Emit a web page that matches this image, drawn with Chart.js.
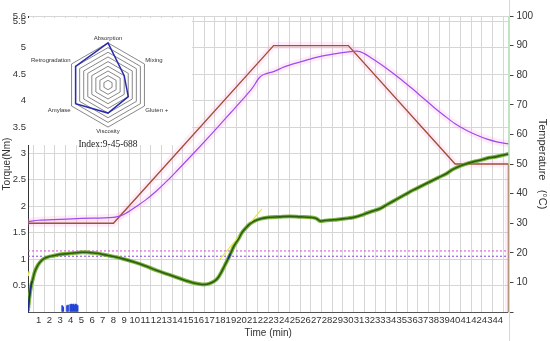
<!DOCTYPE html>
<html>
<head>
<meta charset="utf-8">
<script src="https://cdn.jsdelivr.net/npm/chart.js@4.4.0/dist/chart.umd.min.js"></script>
<style>
  html, body { margin: 0; padding: 0; background: #fff; }
  #wrap { position: relative; width: 550px; height: 341px; }
  #mainChart { position: absolute; left: 0; top: 0; }
  #radarChart { position: absolute; left: 27px; top: 34px; }
</style>
</head>
<body>
<div id="wrap">
  <canvas id="mainChart" width="550" height="341"></canvas>
  <canvas id="radarChart" width="154" height="104"></canvas>
</div>
<script>
// torque curve (Nm) against time (min)
var torqueTime = [0, 0.15, 0.3, 0.45, 0.6, 0.8, 1.0, 1.25, 1.5, 2, 2.5, 3, 3.5, 4, 4.5, 5, 5.5, 6, 6.5, 7, 7.5, 8,
  9, 10, 11, 12, 13, 14, 15, 15.5, 16, 16.5, 17, 17.5, 17.8, 18.1, 18.4, 18.7, 19, 19.3, 19.7, 20, 20.4, 20.8,
  21.2, 21.7, 22.5, 23.5, 24.5, 25.5, 26.5, 27, 27.4, 27.8, 28.3, 29, 29.8, 30.5, 31.2, 31.7, 32.3, 33, 33.7,
  34.5, 35.3, 36.1, 36.8, 37.6, 38.4, 39.2, 39.7, 40.2, 41, 41.7, 42.5, 43.2, 43.6, 44.3, 45];
var torqueValue = [0.02, 0.3, 0.5, 0.62, 0.74, 0.84, 0.91, 0.97, 1.01, 1.05, 1.07, 1.09, 1.10, 1.11, 1.12, 1.13,
  1.13, 1.12, 1.11, 1.09, 1.07, 1.05, 1.00, 0.94, 0.87, 0.79, 0.72, 0.65, 0.58, 0.55, 0.53, 0.52, 0.54, 0.59,
  0.65, 0.75, 0.87, 0.99, 1.12, 1.25, 1.38, 1.49, 1.59, 1.67, 1.72, 1.76, 1.79, 1.80, 1.81, 1.80, 1.79, 1.77,
  1.72, 1.73, 1.74, 1.75, 1.77, 1.79, 1.83, 1.87, 1.91, 1.96, 2.04, 2.13, 2.22, 2.31, 2.38, 2.46, 2.54, 2.62,
  2.69, 2.74, 2.80, 2.84, 2.88, 2.92, 2.93, 2.96, 2.99];

// dark blue pieces of the torque trace
var blueTimeA = [0, 0.1, 0.2, 0.35];
var blueValueA = [0.0, 0.22, 0.4, 0.58];
var blueTimeB = [18.75, 18.95];
var blueValueB = [1.01, 1.1];

// yellow slope lines
var slopeTimeA = [17.9, 21.9];
var slopeValueA = [0.98, 1.95];
var slopeTimeB = [0, 0.12];
var slopeValueB = [0.68, 0.77];

// small blue bars near the bottom
var spikeTime = [3.2, 3.3, 3.65, 3.75, 3.95, 4.05, 4.15, 4.25, 4.35, 4.45, 4.55, 4.65];
var spikeValue = [0.12, 0.10, 0.12, 0.13, 0.14, 0.15, 0.14, 0.15, 0.13, 0.15, 0.14, 0.12];

// target band (Nm)
var limitTime = [0, 45];
var limitHigh = [1.155, 1.155];
var limitLow = [1.055, 1.055];

// temperature profile and dough temperature (°C)
var targetTime = [0, 8, 23, 30, 40, 45, 45];
var targetTemp = [30, 30, 90, 90, 50, 50, 0];
var doughTime = [0, 1, 3, 5, 8, 8.5, 9, 10, 11, 12, 13, 14, 15, 16, 17, 18, 19, 20, 21, 21.7, 22.2, 23, 24, 25,
  26, 27, 28, 29, 30, 30.8, 31.5, 32.3, 33, 34, 35, 36, 37, 38, 39, 40, 41, 42, 43, 44, 45];
var doughTemp = [30.5, 31, 31.3, 31.6, 32, 32.3, 33, 35.3, 37.8, 40.8, 44.2, 47.9, 51.7, 55.5, 59.4, 63.4, 67.4,
  71.4, 75.6, 79.3, 80.4, 81.2, 82.8, 84, 85, 86, 86.8, 87.4, 87.9, 88.1, 87.3, 85.5, 83.8, 81.2, 78.4, 75.4,
  72.3, 69.2, 66.3, 63.6, 61.5, 59.8, 58.4, 57.4, 56.8];

// axis ticks
var xTicks = [0, 1, 2, 3, 4, 5, 6, 7, 8, 9, 10, 11, 12, 13, 14, 15, 16, 17, 18, 19, 20, 21, 22, 23, 24, 25, 26,
  27, 28, 29, 30, 31, 32, 33, 34, 35, 36, 37, 38, 39, 40, 41, 42, 43, 44, 45];
var torqueTicks = [0, 0.5, 1, 1.5, 2, 2.5, 3, 3.5, 4, 4.5, 5, 5.5, 5.6];
var tempTicks = [0, 10, 20, 30, 40, 50, 60, 70, 80, 90, 100];

// profiler inset
var radarLabels = ['Absorption', 'Mixing', 'Gluten +', 'Viscosity', 'Amylase', 'Retrogradation'];
var radarValues = [9, 4, 5, 6, 8, 8];
var indexText = 'Index:9-45-688';

function pts(xs, ys) {
  return xs.map(function (x, i) { return { x: x, y: ys[i] }; });
}

var font = 'Liberation Sans';

var insetPlugin = {
  id: 'inset',
  beforeDatasetsDraw: function (chart) {
    var ctx = chart.ctx;
    ctx.save();
    ctx.fillStyle = '#fff';
    ctx.fillRect(26, 18, 166, 127);
    ctx.strokeStyle = '#c2e4c2';
    ctx.lineWidth = 1;
    ctx.beginPath();
    ctx.moveTo(509.5, 0);
    ctx.lineTo(509.5, 341);
    ctx.stroke();
    ctx.restore();
  },
  afterDraw: function (chart) {
    var ctx = chart.ctx;
    ctx.save();
    ctx.fillStyle = '#222';
    ctx.font = '9.5px "Liberation Serif"';
    ctx.textAlign = 'center';
    ctx.textBaseline = 'middle';
    ctx.fillText(indexText, 108, 144);
    ctx.restore();
  }
};

new Chart(document.getElementById('mainChart'), {
  type: 'line',
  data: {
    datasets: [
      { data: pts(spikeTime, spikeValue), type: 'bar', backgroundColor: '#2344d8', barThickness: 1, order: 1 },
      { data: pts(blueTimeA, blueValueA), borderColor: '#1c2a8c', borderWidth: 1.5, order: 2 },
      { data: pts(blueTimeB, blueValueB), borderColor: '#1c2a8c', borderWidth: 1.5, order: 2 },
      { data: pts(torqueTime, torqueValue), borderColor: '#2a5e12', borderWidth: 1.6, cubicInterpolationMode: 'monotone', order: 3 },
      { data: pts(slopeTimeA, slopeValueA), borderColor: '#e6e84a', borderWidth: 1.2, order: 4 },
      { data: pts(slopeTimeB, slopeValueB), borderColor: '#e6e84a', borderWidth: 1.5, order: 4 },
      { data: pts(torqueTime, torqueValue), borderColor: 'rgba(110,170,40,0.9)', borderWidth: 3.8, cubicInterpolationMode: 'monotone', order: 5 },
      { data: pts(limitTime, limitHigh), borderColor: '#d24ad2', borderWidth: 1, borderDash: [2, 2], order: 6 },
      { data: pts(limitTime, limitLow), borderColor: '#8a4ad8', borderWidth: 1, borderDash: [2, 2], order: 6 },
      { data: pts(doughTime, doughTemp), yAxisID: 'y2', borderColor: '#9a4ef0', borderWidth: 1.2, cubicInterpolationMode: 'monotone', order: 7 },
      { data: pts(targetTime, targetTemp), yAxisID: 'y2', borderColor: '#9c5236', borderWidth: 1.4, tension: 0, order: 8 },
      { data: pts(doughTime, doughTemp), yAxisID: 'y2', borderColor: 'rgba(255,150,215,0.18)', borderWidth: 7, cubicInterpolationMode: 'monotone', order: 9 },
      { data: pts(targetTime, targetTemp), yAxisID: 'y2', borderColor: 'rgba(255,150,215,0.18)', borderWidth: 7, tension: 0, order: 9 }
    ]
  },
  options: {
    responsive: false,
    animation: false,
    layout: { padding: { top: 16, left: 0, right: 0, bottom: 0 } },
    elements: { point: { radius: 0 } },
    plugins: { legend: { display: false }, tooltip: { enabled: false } },
    scales: {
      x: {
        type: 'linear', position: 'bottom', min: 0, max: 45, offset: false,
        afterBuildTicks: function (s) { s.ticks = xTicks.map(function (v) { return { value: v }; }); },
        afterFit: function (s) { s.height = 29; },
        ticks: {
          autoSkip: false, maxRotation: 0, padding: 3, color: '#333',
          font: { family: font, size: 9.5 },
          callback: function (v) { return (v > 0 && v < 45) ? v : ''; }
        },
        grid: { color: '#d6d6d6', drawTicks: false },
        border: { color: '#555' },
        title: { display: true, text: 'Time (min)', color: '#333', font: { family: font, size: 10 }, padding: { top: 0, bottom: 2 } }
      },
      y: {
        type: 'linear', position: 'left', min: 0, max: 5.6,
        afterBuildTicks: function (s) { s.ticks = torqueTicks.map(function (v) { return { value: v }; }); },
        afterFit: function (s) { s.width = 28; },
        ticks: {
          autoSkip: false, padding: 2, color: '#333',
          font: { family: font, size: 9.5 },
          callback: function (v) { return v === 0 ? '' : v; }
        },
        grid: { color: '#d6d6d6', drawTicks: false },
        border: { color: '#333' },
        title: { display: true, text: 'Torque(Nm)', color: '#333', font: { family: font, size: 10 }, padding: { top: 1, bottom: 0 } }
      },
      y2: {
        type: 'linear', position: 'right', min: 0, max: 100,
        afterBuildTicks: function (s) { s.ticks = tempTicks.map(function (v) { return { value: v }; }); },
        afterFit: function (s) { s.width = 41.5; },
        ticks: {
          autoSkip: false, padding: 3, color: '#333',
          font: { family: font, size: 10 },
          callback: function (v) { return v === 0 ? '' : v; }
        },
        grid: { drawOnChartArea: false, drawTicks: true, tickLength: 5, tickColor: '#444' },
        border: { color: '#c2e4c2' },
        title: { display: true, text: 'Temperature   (°C)', color: '#333', font: { family: font, size: 11 }, padding: { top: 1, bottom: 0 } }
      }
    }
  },
  plugins: [insetPlugin]
});

new Chart(document.getElementById('radarChart'), {
  type: 'radar',
  data: {
    labels: radarLabels,
    datasets: [{ data: radarValues, borderColor: '#2b2bb0', borderWidth: 1.5, fill: false, pointRadius: 0 }]
  },
  options: {
    responsive: false,
    animation: false,
    plugins: { legend: { display: false }, tooltip: { enabled: false } },
    scales: {
      r: {
        min: 0, max: 9,
        ticks: { display: false, stepSize: 1 },
        grid: { color: '#555', lineWidth: 0.7 },
        angleLines: { display: false },
        pointLabels: { color: '#333', padding: 1, font: { family: font, size: 6 } }
      }
    }
  }
});
</script>
</body>
</html>
